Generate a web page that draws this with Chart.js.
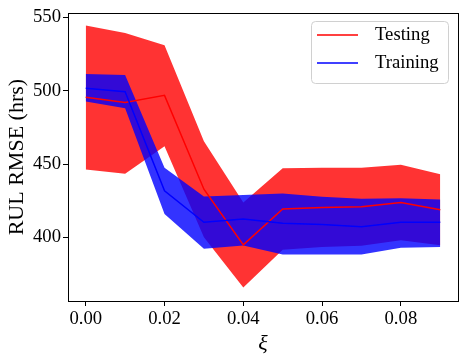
<!DOCTYPE html>
<html>
<head>
<meta charset="utf-8">
<script src="https://cdn.jsdelivr.net/npm/chart.js@4.4.0/dist/chart.umd.min.js"></script>
<style>
  html, body { margin: 0; padding: 0; background: #fff; }
  #wrap { width: 465px; height: 361px; }
</style>
</head>
<body>
<div id="wrap"><canvas id="chart" width="465" height="361"></canvas></div>
<script>
const XI = [0, 0.01, 0.02, 0.03, 0.04, 0.05, 0.06, 0.07, 0.08, 0.09];

const testMean  = [495.5, 491.9, 496.8, 432.9, 395.0, 419.4, 420.5, 421.0, 423.9, 418.9];
const testUpper = [544.4, 539.2, 530.9, 465.5, 423.9, 447.1, 447.5, 447.5, 449.5, 443.0];
const testLower = [446.4, 443.5, 462.2, 400.2, 366.0, 391.7, 393.5, 394.4, 398.2, 394.8];

const trainMean  = [501.6, 499.3, 431.8, 410.4, 412.6, 409.7, 408.8, 407.4, 410.4, 410.4];
const trainUpper = [511.3, 510.6, 447.5, 427.9, 429.0, 429.9, 427.7, 426.4, 426.8, 425.9];
const trainLower = [492.6, 488.0, 416.0, 392.4, 394.6, 388.5, 388.5, 388.5, 393.0, 393.5];

const X_TICKS = [0, 0.02, 0.04, 0.06, 0.08];
const Y_TICKS = [400, 450, 500, 550];

const SERIF = "'Liberation Serif', 'Times New Roman', serif";
const pts = ys => XI.map((x, i) => ({ x, y: ys[i] }));

function band(label, data, fill, color) {
  return {
    label, data: pts(data), fill, backgroundColor: color,
    borderWidth: 0, pointRadius: 0, tension: 0, legend: false,
  };
}

function line(label, data, color) {
  return {
    label, data: pts(data), fill: false, borderColor: color,
    borderWidth: 1.5, pointRadius: 0, tension: 0, legend: true,
  };
}

// first dataset is drawn on top
const datasets = [
  line('Training', trainMean, '#0000ff'),
  line('Testing', testMean, '#ff0000'),
  band('train+', trainUpper, '+1', 'rgba(0,0,255,0.8)'),
  band('train-', trainLower, false, 'rgba(0,0,255,0.8)'),
  band('test+', testUpper, '+1', 'rgba(255,0,0,0.8)'),
  band('test-', testLower, false, 'rgba(255,0,0,0.8)'),
];

const frame = {
  id: 'frame',
  afterDraw(chart) {
    const { ctx, chartArea: a } = chart;
    ctx.save();
    ctx.strokeStyle = '#000';
    ctx.lineWidth = 1;
    ctx.strokeRect(Math.round(a.left) + 0.5, Math.round(a.top) + 0.5,
      Math.round(a.right - a.left), Math.round(a.bottom - a.top));

    // legend box, upper right
    const x = 311, y = 21, w = 137, h = 62;
    ctx.beginPath();
    ctx.roundRect(x + 0.5, y + 0.5, w, h, 4);
    ctx.fillStyle = 'rgba(255,255,255,0.8)';
    ctx.fill();
    ctx.strokeStyle = '#d0d0d0';
    ctx.stroke();

    const items = chart.data.datasets.filter(d => d.legend).reverse();
    ctx.font = `18.7px ${SERIF}`;
    ctx.textBaseline = 'middle';
    ctx.fillStyle = '#000';
    items.forEach((d, i) => {
      const ly = 35 + i * 28;
      ctx.beginPath();
      ctx.moveTo(317, ly);
      ctx.lineTo(358, ly);
      ctx.strokeStyle = d.borderColor;
      ctx.lineWidth = 1.5;
      ctx.stroke();
      ctx.fillText(d.label, 375, ly);
    });
    ctx.restore();
  },
};

new Chart(document.getElementById('chart'), {
  type: 'line',
  data: { datasets },
  plugins: [frame],
  options: {
    responsive: false,
    animation: false,
    events: [],
    layout: { padding: { top: 11, right: 7, left: 0, bottom: 0 } },
    plugins: { legend: { display: false }, tooltip: { enabled: false } },
    scales: {
      x: {
        type: 'linear',
        min: -0.0045,
        max: 0.0945,
        afterBuildTicks: s => { s.ticks = X_TICKS.map(value => ({ value })); },
        afterFit: s => { s.height = 60; },
        ticks: {
          color: '#000', padding: 2, maxRotation: 0,
          font: { family: SERIF, size: 18.7 },
          callback: v => Number(v).toFixed(2),
        },
        grid: { drawOnChartArea: false, drawTicks: true, tickLength: 5, color: '#000' },
        border: { display: false },
        title: {
          display: true, text: 'ξ', color: '#000',
          font: { family: SERIF, size: 22, style: 'italic' },
          padding: { top: 0, bottom: 4 },
        },
      },
      y: {
        min: 356.8,
        max: 552.7,
        afterBuildTicks: s => { s.ticks = Y_TICKS.map(value => ({ value })); },
        afterFit: s => { s.width = 68; },
        ticks: {
          color: '#000', padding: 2,
          font: { family: SERIF, size: 18.7 },
        },
        grid: { drawOnChartArea: false, drawTicks: true, tickLength: 5, color: '#000' },
        border: { display: false },
        title: {
          display: true, text: 'RUL RMSE (hrs)', color: '#000',
          font: { family: SERIF, size: 22 },
          padding: { top: 4, bottom: 0 },
        },
      },
    },
  },
});
</script>
</body>
</html>
